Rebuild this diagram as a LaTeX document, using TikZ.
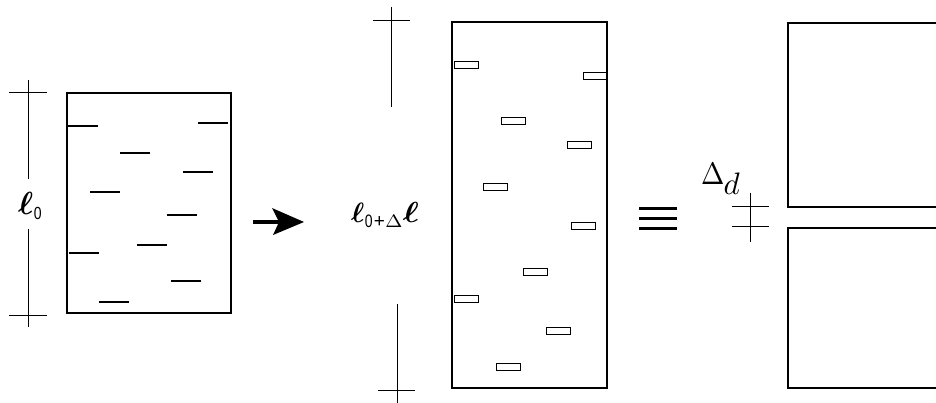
\documentclass[tikz,border=0pt]{standalone}
\usepackage{amsmath}
\usepackage{fontspec}
\newfontfamily\lsans{Liberation Sans}
\begin{document}
\begin{tikzpicture}[x=1pt,y=-1pt,
  frame/.style={line width=2.7pt},
  crack/.style={line width=2.4pt},
  opencrack/.style={line width=0.9pt},
  dimline/.style={line width=1pt},
  eqbar/.style={line width=3pt},
  label/.style={anchor=base west, inner sep=0pt}]
\clip (0,0) rectangle (936,403);
\fill[white] (0,0) rectangle (936,403);

% ---- unstretched body with closed cracks
\draw[frame] (67,93) rectangle (231,313);
\foreach \xa/\xb/\yy in {68/98/126, 198/228/123, 120/150/153, 183/213/172,
    90/120/192, 167/197/215, 69/99/253, 137/167/245, 171/201/281, 99/129/302}
  \draw[crack] (\xa,\yy) -- (\xb,\yy);

% length l0
\draw[dimline] (28,80) -- (28,179);
\draw[dimline] (28,229) -- (28,327);
\draw[dimline] (9,93) -- (47,93);
\draw[dimline] (9,315) -- (47,315);
\node[label] (l0) at (18,215)
  {\scalebox{3.2}{$\boldsymbol{\ell}$}\kern0.5pt\raisebox{-5pt}{\scalebox{1.4}[1.75]{\lsans 0}}};

% ---- arrow
\draw[line width=3.6pt] (253,222) -- (280,222);
\fill (304,222) -- (272,208) -- (279,222) -- (273,235) -- cycle;

% ---- stretched body with opened cracks
\draw[frame] (452,22) rectangle (607,388);
\foreach \xx/\yy in {454/61, 583/72, 501/117, 567/141, 483/183,
    571/222, 523/268, 454/295, 546/327, 496/363}
  \draw[opencrack] (\xx,\yy) rectangle ++(24,7);

% length l0 + delta l
\draw[dimline] (391,7) -- (391,107);
\draw[dimline] (373,21) -- (410,21);
\draw[dimline] (397,304) -- (397,403);
\draw[dimline] (378,390) -- (415,390);
\node[label] (l1) at (351,223)
  {\scalebox{2.8}{$\boldsymbol{\ell}$}\kern0.5pt%
   \raisebox{-5pt}{\scalebox{1.4}[1.8]{\lsans 0}\kern1pt\scalebox{1.9}{\lsans +}\kern0.5pt\scalebox{2.05}[1.8]{$\Delta$}}%
   \kern0.5pt\scalebox{3.4}[2.9]{$\boldsymbol{\ell}$}};

% ---- equivalence sign
\draw[eqbar] (639,209) -- (677,209);
\draw[eqbar] (639,219) -- (677,219);
\draw[eqbar] (639,229) -- (677,229);

% ---- equivalent body: two blocks separated by an opening
\draw[frame] (945,23) -- (788,23) -- (788,207) -- (945,207);
\draw[frame] (945,228) -- (788,228) -- (788,388) -- (945,388);

% opening delta d
\draw[dimline] (750,193) -- (750,242);
\draw[dimline] (732,207) -- (769,207);
\draw[dimline] (732,227) -- (769,227);
\node[label] (dd) at (701,185)
  {\scalebox{2.8}[3.1]{$\Delta$}\kern-1pt\raisebox{-10pt}{\scalebox{3.1}{$d$}}};
\end{tikzpicture}
\end{document}
